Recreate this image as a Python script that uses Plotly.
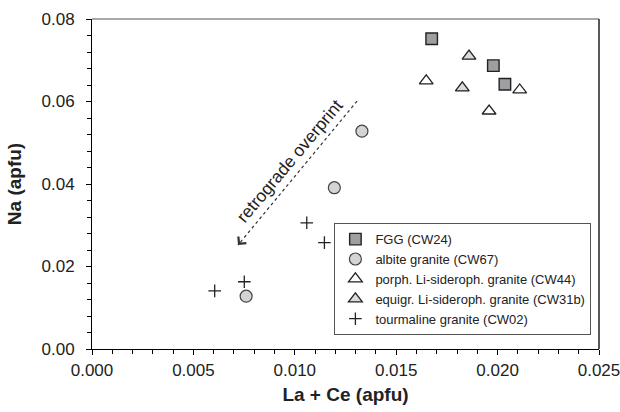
import plotly.graph_objects as go

# ---- data (La+Ce, Na in apfu) ----
fgg_x = [0.01675, 0.01979, 0.02036]
fgg_y = [0.0752, 0.0687, 0.0642]
albite_x = [0.0076, 0.01195, 0.01331]
albite_y = [0.0128, 0.0391, 0.0528]
porph_x = [0.01648, 0.01958, 0.02109]
porph_y = [0.0650, 0.0577, 0.0628]
equigr_x = [0.01859, 0.01826]
equigr_y = [0.0710, 0.0633]
tourm_x = [0.00605, 0.00751, 0.01059, 0.01146]
tourm_y = [0.0141, 0.0163, 0.0306, 0.0258]

series_names = ["FGG (CW24)", "albite granite (CW67)",
                "porph. Li-sideroph. granite (CW44)",
                "equigr. Li-sideroph. granite (CW31b)",
                "tourmaline granite (CW02)"]

arrow_tail = (0.01307, 0.0601)
arrow_head = (0.0072, 0.0252)
arrow_label = "retrograde overprint"
label_pos = (0.00975, 0.0455)

x_ticks = [0.000, 0.005, 0.010, 0.015, 0.020, 0.025]
y_ticks = [0.00, 0.02, 0.04, 0.06, 0.08]

FONT = "Liberation Sans, Arial, Helvetica, sans-serif"
DARK = "#222222"

fig = go.Figure()
fig.add_trace(go.Scatter(x=fgg_x, y=fgg_y, mode="markers", name=series_names[0],
    marker=dict(symbol="square", size=11.5, color="#9d9fa3", line=dict(color=DARK, width=1.4))))
fig.add_trace(go.Scatter(x=albite_x, y=albite_y, mode="markers", name=series_names[1],
    marker=dict(symbol="circle", size=12, color="#d3d4d6", line=dict(color="#444444", width=1.2))))
fig.add_trace(go.Scatter(x=porph_x, y=porph_y, mode="markers", name=series_names[2],
    marker=dict(symbol="triangle-up", size=12, color="#ffffff", line=dict(color=DARK, width=1.3))))
fig.add_trace(go.Scatter(x=equigr_x, y=equigr_y, mode="markers", name=series_names[3],
    marker=dict(symbol="triangle-up", size=12, color="#d9dadb", line=dict(color=DARK, width=1.3))))
fig.add_trace(go.Scatter(x=tourm_x, y=tourm_y, mode="markers", name=series_names[4],
    marker=dict(symbol="cross-thin", size=9, color=DARK, line=dict(color=DARK, width=1.3))))

# dotted arrow line
fig.add_shape(type="line", xref="x", yref="y",
              x0=arrow_tail[0], y0=arrow_tail[1], x1=arrow_head[0], y1=arrow_head[1],
              line=dict(color="#333333", width=1.2, dash="dot"))
fig.add_annotation(x=arrow_head[0], y=arrow_head[1], xref="x", yref="y",
                   ax=3.8, ay=-4.6, text="", showarrow=True, arrowhead=4,
                   arrowsize=2.0, arrowwidth=1, arrowcolor="#333333", standoff=0)
fig.add_annotation(x=label_pos[0], y=label_pos[1], xref="x", yref="y",
                   text=arrow_label, showarrow=False, textangle=-50,
                   font=dict(family=FONT, size=17.5, color="#222222"))

# top (grey) and right (dark) frame lines
fig.add_shape(type="line", xref="paper", yref="paper", x0=0, x1=1, y0=1, y1=1,
              line=dict(color="#8c8c8c", width=1.5))
fig.add_shape(type="line", xref="paper", yref="paper", x0=1, x1=1, y0=0, y1=1,
              line=dict(color="#222222", width=1.5))

fig.update_layout(
    width=620, height=412,
    margin=dict(l=92, r=21, t=19, b=63, autoexpand=False),
    paper_bgcolor="white", plot_bgcolor="white",
    font=dict(family=FONT, size=17, color="#222222"),
    showlegend=True,
    legend=dict(x=0.985, y=0.042, xanchor="right", yanchor="bottom",
                bgcolor="rgba(255,255,255,0)", bordercolor="#555555", borderwidth=1,
                font=dict(family=FONT, size=13, color="#222222"),
                itemwidth=30, tracegroupgap=0),
)
fig.update_xaxes(range=[0, 0.025], tickvals=x_ticks, tickformat=".3f", automargin=False,
                 showgrid=False, zeroline=False, showline=True, linecolor="black", linewidth=1,
                 ticks="outside", ticklen=5, tickcolor="black", tickwidth=1,
                 minor=dict(dtick=0.001, ticks="outside", ticklen=4, tickcolor="black", tickwidth=1, showgrid=False),
                 ticklabelstandoff=1, ticklabeloverflow="allow",
                 tickfont=dict(family=FONT, size=17),
                 title=dict(text="<b>La + Ce (apfu)</b>", font=dict(family=FONT, size=19), standoff=8))
fig.update_yaxes(range=[0, 0.08], tickvals=y_ticks, tickformat=".2f", automargin=False,
                 showgrid=False, zeroline=False, showline=True, linecolor="black", linewidth=1,
                 ticks="outside", ticklen=5, tickcolor="black", tickwidth=1,
                 minor=dict(dtick=0.004, ticks="outside", ticklen=4, tickcolor="black", tickwidth=1, showgrid=False),
                 ticklabelstandoff=8, ticklabeloverflow="allow",
                 tickfont=dict(family=FONT, size=17),
                 title=dict(text="<b>Na (apfu)</b>", font=dict(family=FONT, size=19), standoff=14))

page_fix = ("document.documentElement.style.overflow='hidden';"
            "document.body.style.overflow='hidden';"
            "document.body.style.margin='0';")
fig.write_html("out.html", post_script=page_fix,
               config={"displayModeBar": False, "staticPlot": True})
